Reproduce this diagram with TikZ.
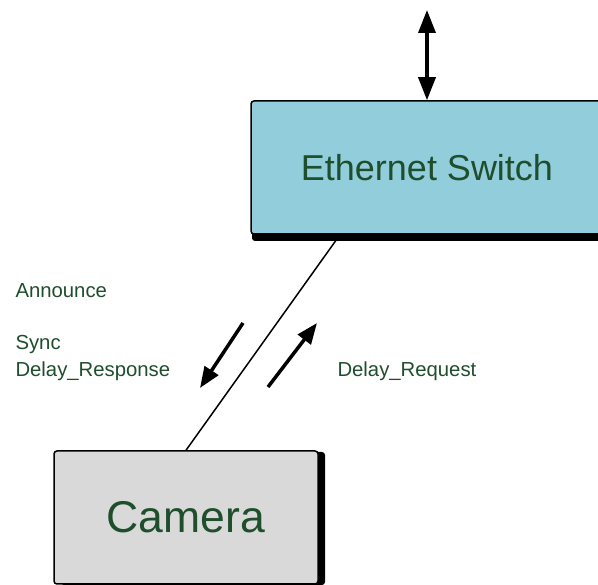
\documentclass[tikz,border=0pt]{standalone}
\usepackage{fontspec}
\setmainfont{Liberation Sans}
\usetikzlibrary{arrows.meta,shadows}
\definecolor{switchblue}{HTML}{92CDDC}
\definecolor{camgray}{HTML}{D9D9D9}
\definecolor{textgreen}{HTML}{1F4E2C}
\begin{document}
\begin{tikzpicture}[x=1pt,y=-1pt,
        box/.style = {draw, line width=1.5pt, rounded corners=3pt,
            text=textgreen, minimum height=133pt},
        msg/.style = {anchor=base west, text=textgreen,
            font=\fontsize{20.3}{24}\selectfont},
        flow/.style = {line width=3.5pt, -{Triangle[length=21pt,width=16pt]}}]
    \useasboundingbox (0,0) rectangle (598,585);
    \node[box, fill=switchblue, minimum width=352pt,
        drop shadow={shadow xshift=1pt, shadow yshift=-7pt, opacity=1, fill=black},
        font=\fontsize{36}{42}\selectfont] (switch) at (427,167.5) {Ethernet Switch};
    \node[box, fill=camgray, minimum width=264pt,
        drop shadow={shadow xshift=7pt, shadow yshift=-1pt, opacity=1, fill=black},
        font=\fontsize{44.5}{52}\selectfont] (camera) at (186,517.5) {Camera};
    \coordinate (uplink) at (427,10);
    \coordinate (port) at ([xshift=-87pt]switch.south);
    \draw[flow, {Triangle[length=23pt,width=17pt]}-{Triangle[length=23pt,width=17pt]}] (uplink) -- (switch.north);
    \draw[line width=1.5pt] (port) -- (camera.north);
    % messages
    \coordinate (down1) at (243,323);
    \coordinate (down2) at (200,388);
    \coordinate (up1) at (268,387);
    \coordinate (up2) at (317,323);
    \draw[flow] (down1) -- (down2);
    \draw[flow] (up1) -- (up2);
    \node[msg] (announce) at (12,298) {Announce};
    \node[msg] (sync) at (12,350) {Sync};
    \node[msg] (response) at (12,377) {Delay\_Response};
    \node[msg] (request) at (334,377) {Delay\_Request};
\end{tikzpicture}
\end{document}
